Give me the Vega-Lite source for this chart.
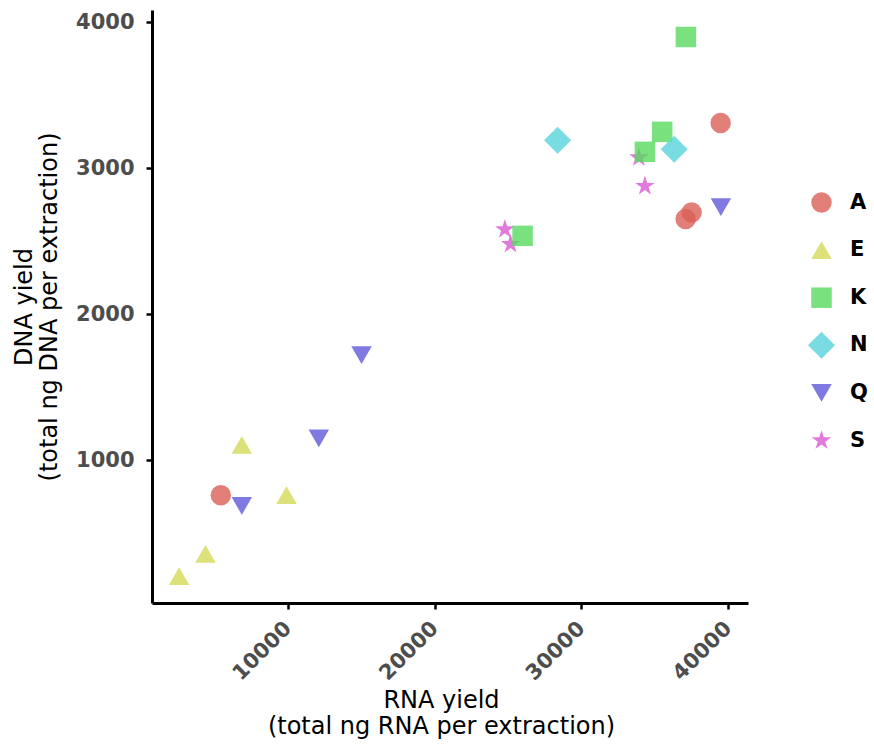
{
  "$schema": "https://vega.github.io/schema/vega-lite/v6.json",
  "width": 596,
  "height": 593,
  "autosize": "none",
  "padding": {"left": 152, "top": 10, "right": 126, "bottom": 143},
  "background": "white",
  "config": {
    "view": {"stroke": null},
    "font": "DejaVu Sans"
  },
  "data": {
    "values": [
      {"group": "A", "rna": 5433, "dna": 758},
      {"group": "A", "rna": 39496, "dna": 3310},
      {"group": "A", "rna": 37519, "dna": 2697},
      {"group": "A", "rna": 37110, "dna": 2651},
      {"group": "E", "rna": 2590, "dna": 205},
      {"group": "E", "rna": 4390, "dna": 356},
      {"group": "E", "rna": 6864, "dna": 1103},
      {"group": "E", "rna": 9911, "dna": 760},
      {"group": "S", "rna": 33927, "dna": 3073},
      {"group": "S", "rna": 34335, "dna": 2877},
      {"group": "S", "rna": 24792, "dna": 2580},
      {"group": "S", "rna": 25181, "dna": 2479},
      {"group": "K", "rna": 37130, "dna": 3899},
      {"group": "K", "rna": 35515, "dna": 3249},
      {"group": "K", "rna": 34335, "dna": 3112},
      {"group": "K", "rna": 25998, "dna": 2536},
      {"group": "N", "rna": 28385, "dna": 3192},
      {"group": "N", "rna": 36333, "dna": 3130},
      {"group": "Q", "rna": 6864, "dna": 685},
      {"group": "Q", "rna": 12113, "dna": 1149},
      {"group": "Q", "rna": 15024, "dna": 1719},
      {"group": "Q", "rna": 39516, "dna": 2733}
    ]
  },
  "mark": {"type": "point", "filled": true, "opacity": 0.8, "strokeWidth": 0, "size": 420},
  "encoding": {
    "x": {
      "field": "rna",
      "type": "quantitative",
      "scale": {"domain": [744, 41362], "nice": false, "zero": false},
      "axis": {
        "values": [10000, 20000, 30000, 40000],
        "format": "d",
        "grid": false,
        "domainColor": "black",
        "domainWidth": 3,
        "tickColor": "black",
        "tickWidth": 2.5,
        "tickSize": 6,
        "labelAngle": -45,
        "labelAlign": "right",
        "labelBaseline": "middle",
        "labelPadding": 16,
        "labelFontSize": 21,
        "labelFontWeight": "bold",
        "labelColor": "#4d4d4d",
        "title": ["RNA yield", "(total ng RNA per extraction)"],
        "titleFontSize": 24,
        "titleFontWeight": "normal",
        "titleColor": "black",
        "titleLineHeight": 26,
        "titleBaseline": "top",
        "titleAlign": "center",
        "titleX": 289,
        "titleY": 85
      }
    },
    "y": {
      "field": "dna",
      "type": "quantitative",
      "scale": {"domain": [20, 4084], "nice": false, "zero": false},
      "axis": {
        "values": [1000, 2000, 3000, 4000],
        "format": "d",
        "grid": false,
        "domainColor": "black",
        "domainWidth": 3,
        "tickColor": "black",
        "tickWidth": 2.5,
        "tickSize": 6,
        "labelPadding": 12,
        "labelFontSize": 21,
        "labelFontWeight": "bold",
        "labelColor": "#4d4d4d",
        "title": ["DNA yield", "(total ng DNA per extraction)"],
        "titleFontSize": 24,
        "titleFontWeight": "normal",
        "titleColor": "black",
        "titleLineHeight": 25,
        "titleBaseline": "top",
        "titleX": -140
      }
    },
    "color": {
      "field": "group",
      "type": "nominal",
      "scale": {
        "domain": ["A", "E", "K", "N", "Q", "S"],
        "range": ["#db5f57", "#d3db57", "#57db5f", "#57d3db", "#5f57db", "#db57d3"]
      },
      "legend": {
        "title": null,
        "orient": "none",
        "legendX": 659,
        "legendY": 182,
        "symbolSize": 420,
        "symbolStrokeWidth": 0,
        "labelFontSize": 21,
        "labelFontWeight": "bold",
        "labelColor": "black",
        "labelOffset": 18,
        "gridAlign": "all",
        "rowPadding": 18.6
      }
    },
    "shape": {
      "field": "group",
      "type": "nominal",
      "scale": {
        "domain": ["A", "E", "K", "N", "Q", "S"],
        "range": [
          "circle",
          "triangle-up",
          "square",
          "M-1.32,0L0,-1.32L1.32,0L0,1.32Z",
          "triangle-down",
          "M0,-1L0.225,-0.309L0.951,-0.309L0.363,0.118L0.588,0.809L0,0.382L-0.588,0.809L-0.363,0.118L-0.951,-0.309L-0.225,-0.309Z"
        ]
      }
    }
  }
}
